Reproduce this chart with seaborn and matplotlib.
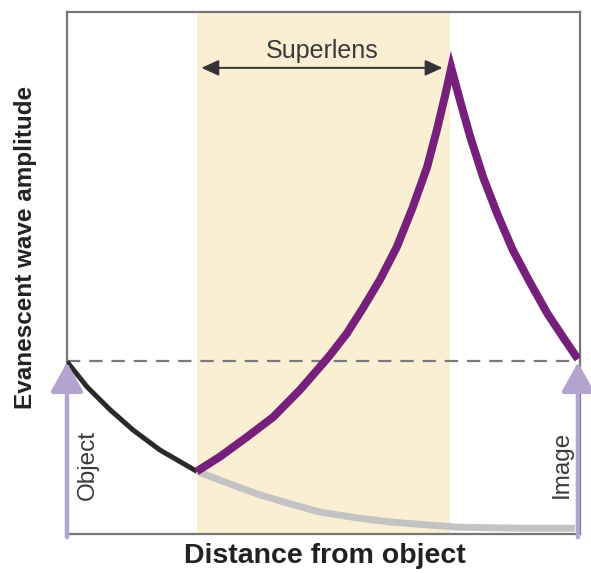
import seaborn as sns
import pandas as pd
import matplotlib
matplotlib.use("Agg")
import matplotlib.pyplot as plt

# valores (distancia 0-10, amplitud 0-10)
black_x = [0.00, 0.39, 0.84, 1.29, 1.81, 2.53]
black_y = [3.30, 2.82, 2.38, 1.99, 1.61, 1.20]

purple_x = [2.53, 2.98, 3.51, 4.02, 4.54, 4.93, 5.13, 5.46, 5.77, 6.10, 6.43,
            6.74, 7.02, 7.21, 7.37, 7.49, 7.66, 7.86, 8.11, 8.38, 8.69, 9.03,
            9.36, 9.67, 9.96]
purple_y = [1.20, 1.48, 1.86, 2.24, 2.76, 3.20, 3.43, 3.85, 4.33, 4.87, 5.50,
            6.26, 7.03, 7.74, 8.40, 8.93, 8.31, 7.61, 6.84, 6.15, 5.44, 4.81,
            4.23, 3.77, 3.35]

gray_x = [2.53, 3.12, 3.76, 4.41, 4.93, 5.65, 6.30, 7.60, 8.89, 9.90]
gray_y = [1.20, 0.98, 0.75, 0.56, 0.42, 0.31, 0.23, 0.13, 0.11, 0.11]

lens_start, lens_end = 2.53, 7.47
object_level = 3.31
object_x, image_x = 0.0, 9.96
labels = {"lens": "Superlens", "obj": "Object", "img": "Image",
          "x": "Distance from object", "y": "Evanescent wave amplitude"}

sns.set_style("white")
plt.rcParams["font.family"] = ["Liberation Sans", "DejaVu Sans"]

fig = plt.figure(figsize=(5.91, 5.73), dpi=100)
ax = fig.add_axes([67 / 591, 1 - 534 / 573, 513 / 591, 522 / 573])
ax.set_xlim(0, 10)
ax.set_ylim(0, 10)

# zona del superlente
ax.axvspan(lens_start, lens_end, color="#fbefd3", lw=0, zorder=0)

# nivel del objeto
ax.axhline(object_level, xmin=0, xmax=image_x / 10, color="#7a7a7a", lw=1.6,
           dashes=(6, 4), zorder=1)

df_gray = pd.DataFrame({"x": gray_x, "y": gray_y})
df_black = pd.DataFrame({"x": black_x, "y": black_y})
df_purple = pd.DataFrame({"x": purple_x, "y": purple_y})

sns.lineplot(data=df_gray, x="x", y="y", sort=False, color="#c3c3c3", lw=5,
             ax=ax, zorder=2)
sns.lineplot(data=df_black, x="x", y="y", sort=False, color="#2a2a2a", lw=3.6,
             ax=ax, zorder=3)
sns.lineplot(data=df_purple, x="x", y="y", sort=False, color="#76207c", lw=5.8,
             ax=ax, zorder=4)
for ln in ax.lines:
    ln.set_solid_joinstyle("round")
    ln.set_solid_capstyle("butt")
ax.lines[-1].set_solid_joinstyle("miter")

for s in ax.spines.values():
    s.set_color("#767676")
    s.set_linewidth(1.6)
ax.set_xticks([])
ax.set_yticks([])
ax.set_xlabel("")
ax.set_ylabel("")

# flechas de objeto e imagen
for xx in (object_x, image_x):
    ax.annotate("", xy=(xx, object_level - 0.02), xytext=(xx, -0.06),
                arrowprops=dict(arrowstyle="-|>,head_length=0.9,head_width=0.5",
                                mutation_scale=20, color="#b3a3cf", lw=3.2,
                                shrinkA=0, shrinkB=0),
                annotation_clip=False, zorder=6)

ax.text(0.40, 1.33, labels["obj"], rotation=90, ha="center", va="center",
        fontsize=17.5, color="#3a3a3a")
ax.text(9.65, 1.33, labels["img"], rotation=90, ha="center", va="center",
        fontsize=17.5, color="#3a3a3a")

# flecha del superlente
ax.annotate("", xy=(2.62, 8.93), xytext=(7.32, 8.93),
            arrowprops=dict(arrowstyle="<|-|>,head_length=0.7,head_width=0.32",
                            mutation_scale=15, color="#333333", lw=1.4,
                            shrinkA=0, shrinkB=0), zorder=5)
ax.text(4.97, 9.26, labels["lens"], ha="center", va="center", fontsize=18,
        color="#3a3a3a")

fig.text(325 / 591, 1 - 556 / 573, labels["x"], ha="center", va="center",
         fontsize=20.5, fontweight="bold", color="#222222")
fig.text(26 / 591, 1 - 247 / 573, labels["y"], ha="center", va="center",
         rotation=90, fontsize=17.5, fontweight="bold", color="#222222")

fig.savefig("out.png", dpi=100)
